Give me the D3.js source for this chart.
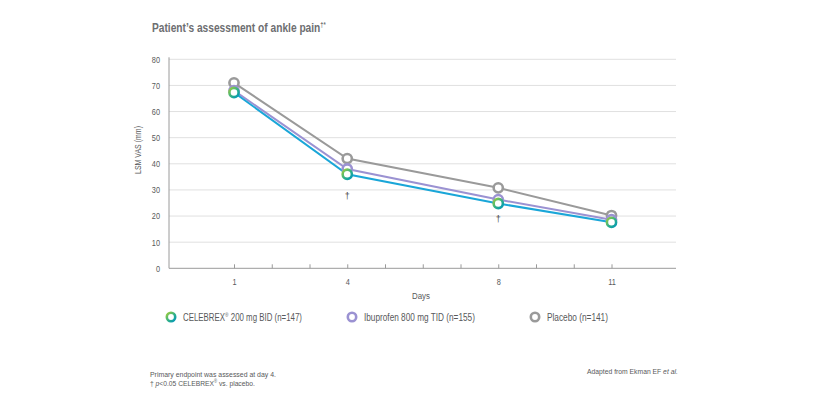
<!DOCTYPE html>
<html><head><meta charset="utf-8">
<script src="https://cdn.jsdelivr.net/npm/d3@7"></script>
<style>
html,body{margin:0;padding:0;background:#fff;}
svg{display:block;font-family:"Liberation Sans","Arimo","Helvetica",Arial,sans-serif;}
</style></head>
<body>
<svg id="c" width="821" height="397"></svg>
<script>
const days = [1, 4, 8, 11];
const celebrex = [67.3, 36.0, 24.8, 17.6];
const ibuprofen = [68.0, 38.0, 26.3, 18.6];
const placebo = [71.0, 42.0, 30.8, 20.2];
const yTicks = [0, 10, 20, 30, 40, 50, 60, 70, 80];
const xMinorTicks = [1, 2, 3, 4, 5, 6, 7, 8, 9, 10, 11];
const daggerDays = [4, 8];
const daggerValues = [26.7, 17.9];
const seriesNames = ["CELEBREX", "Ibuprofen 800 mg TID (n=155)", "Placebo (n=141)"];

const svg = d3.select("#c");
const x = d3.scaleLinear().domain([1, 11]).range([234, 611.5]);
const y = d3.scaleLinear().domain([0, 80]).range([268.3, 59.3]);
const left = 169, right = 676;
const TXT = "#58595b";

// condensed text: natural text horizontally scaled to a target width
function ctext(transform, w, size, anchor, build, color){
  const gg = svg.append("g");
  const tx = gg.append("text").attr("x",0).attr("y",0).attr("fill",color||TXT)
    .attr("font-size",size).attr("text-anchor",anchor||"start");
  build(tx);
  const nat = tx.node().getComputedTextLength();
  gg.attr("transform", transform + ` scale(${w/nat},1)`);
  return tx;
}

const defs = svg.append("defs");
const g = defs.append("linearGradient").attr("id","cg").attr("x1","0").attr("y1","0").attr("x2","1").attr("y2","1");
g.append("stop").attr("offset","0%").attr("stop-color","#9ccc3c");
g.append("stop").attr("offset","55%").attr("stop-color","#2fb08a");
g.append("stop").attr("offset","100%").attr("stop-color","#0097b8");

// Title
ctext("translate(152,32)", 174, 12.5, "start", t=>{
  t.attr("font-weight","bold");
  t.append("tspan").text("Patient’s assessment of ankle pain");
  t.append("tspan").attr("font-size",7).attr("dy",-5).text("†*");
}, "#6d6e71");

// gridlines
svg.append("g").selectAll("line").data(yTicks.filter(d=>d>0)).join("line")
  .attr("x1",left).attr("x2",right).attr("y1",d=>y(d)).attr("y2",d=>y(d))
  .attr("stroke","#e0e0e0").attr("stroke-width",1);

// y axis
const ya = svg.append("g").attr("transform",`translate(${left},0)`)
  .call(d3.axisLeft(y).tickValues(yTicks).tickSize(0).tickPadding(9));
ya.select(".domain").attr("stroke","#9a9a9a").attr("d",`M0,${y(0)}V${y(80)-2}`);
ya.selectAll("text").attr("fill",TXT).attr("font-size",9).attr("font-family",null)
  .attr("transform","scale(0.82,1)").attr("x",-9/0.82);

// x axis
const xa = svg.append("g").attr("transform",`translate(0,${y(0)})`)
  .call(d3.axisBottom(x).tickValues(xMinorTicks).tickSize(-4).tickPadding(10)
    .tickFormat(d => days.includes(d) ? d : ""));
xa.select(".domain").attr("stroke","#9a9a9a").attr("d",`M${left},0H${right}`);
xa.selectAll(".tick line").attr("stroke","#9a9a9a").attr("y2",-4);
xa.selectAll("text").attr("fill",TXT).attr("font-size",9).attr("font-family",null)
  .attr("transform","scale(0.82,1)");

// axis titles
ctext("translate(421,299)", 18, 9, "middle", t=>t.text("Days"));
ctext("translate(141,150) rotate(-90)", 48, 9, "middle", t=>t.text("LSM VAS (mm)"));

// lines
const line = d3.line().x((d,i)=>x(days[i])).y(d=>y(d));
const series = [
  {v: placebo, color:"#9a9a9a", ring:"#9a9a9a"},
  {v: ibuprofen, color:"#9b92d2", ring:"#9b92d2"},
  {v: celebrex, color:"#1aa6d8", ring:"url(#cg)"}
];
series.forEach(s=>{
  svg.append("path").datum(s.v).attr("d",line).attr("fill","none")
    .attr("stroke",s.color).attr("stroke-width",2);
});
series.forEach(s=>{
  svg.append("g").selectAll("circle").data(s.v).join("circle")
    .attr("cx",(d,i)=>x(days[i])).attr("cy",d=>y(d)).attr("r",4.6)
    .attr("fill","#fff").attr("stroke",s.ring).attr("stroke-width",2.6);
});

// daggers
svg.append("g").selectAll("text").data(daggerDays).join("text")
  .attr("x",d=>x(d)).attr("y",(d,i)=>y(daggerValues[i])).attr("text-anchor","middle")
  .attr("fill","#444").attr("font-size",9).text("†");

// legend
const legY = 317;
const leg = [
  {x:171, ring:"url(#cg)", w:119},
  {x:352, ring:"#9b92d2", w:111},
  {x:535, ring:"#9a9a9a", w:61}
];
leg.forEach((l,i)=>{
  svg.append("circle").attr("cx",l.x).attr("cy",legY).attr("r",4.2)
    .attr("fill","#fff").attr("stroke",l.ring).attr("stroke-width",2.6);
  ctext(`translate(${l.x+12},${legY+3.5})`, l.w, 10, "start", tx=>{
    if(i===0){
      tx.append("tspan").text(seriesNames[0]);
      tx.append("tspan").attr("font-size",6).attr("dy",-4).text("®");
      tx.append("tspan").attr("dy",4).text(" 200 mg BID (n=147)");
    } else tx.text(seriesNames[i]);
  });
});

// footnotes
ctext("translate(150,376.5)", 126, 8, "start", t=>t.text("Primary endpoint was assessed at day 4."));
ctext("translate(150,385.5)", 105, 8, "start", f2=>{
  f2.append("tspan").text("† ");
  f2.append("tspan").attr("font-style","italic").text("p");
  f2.append("tspan").text("<0.05 CELEBREX");
  f2.append("tspan").attr("font-size",5).attr("dy",-3).text("®");
  f2.append("tspan").attr("dy",3).text(" vs. placebo.");
});
ctext("translate(587,374)", 91, 8, "start", f3=>{
  f3.append("tspan").text("Adapted from Ekman EF ");
  f3.append("tspan").attr("font-style","italic").text("et al.");
});
</script>
</body></html>
